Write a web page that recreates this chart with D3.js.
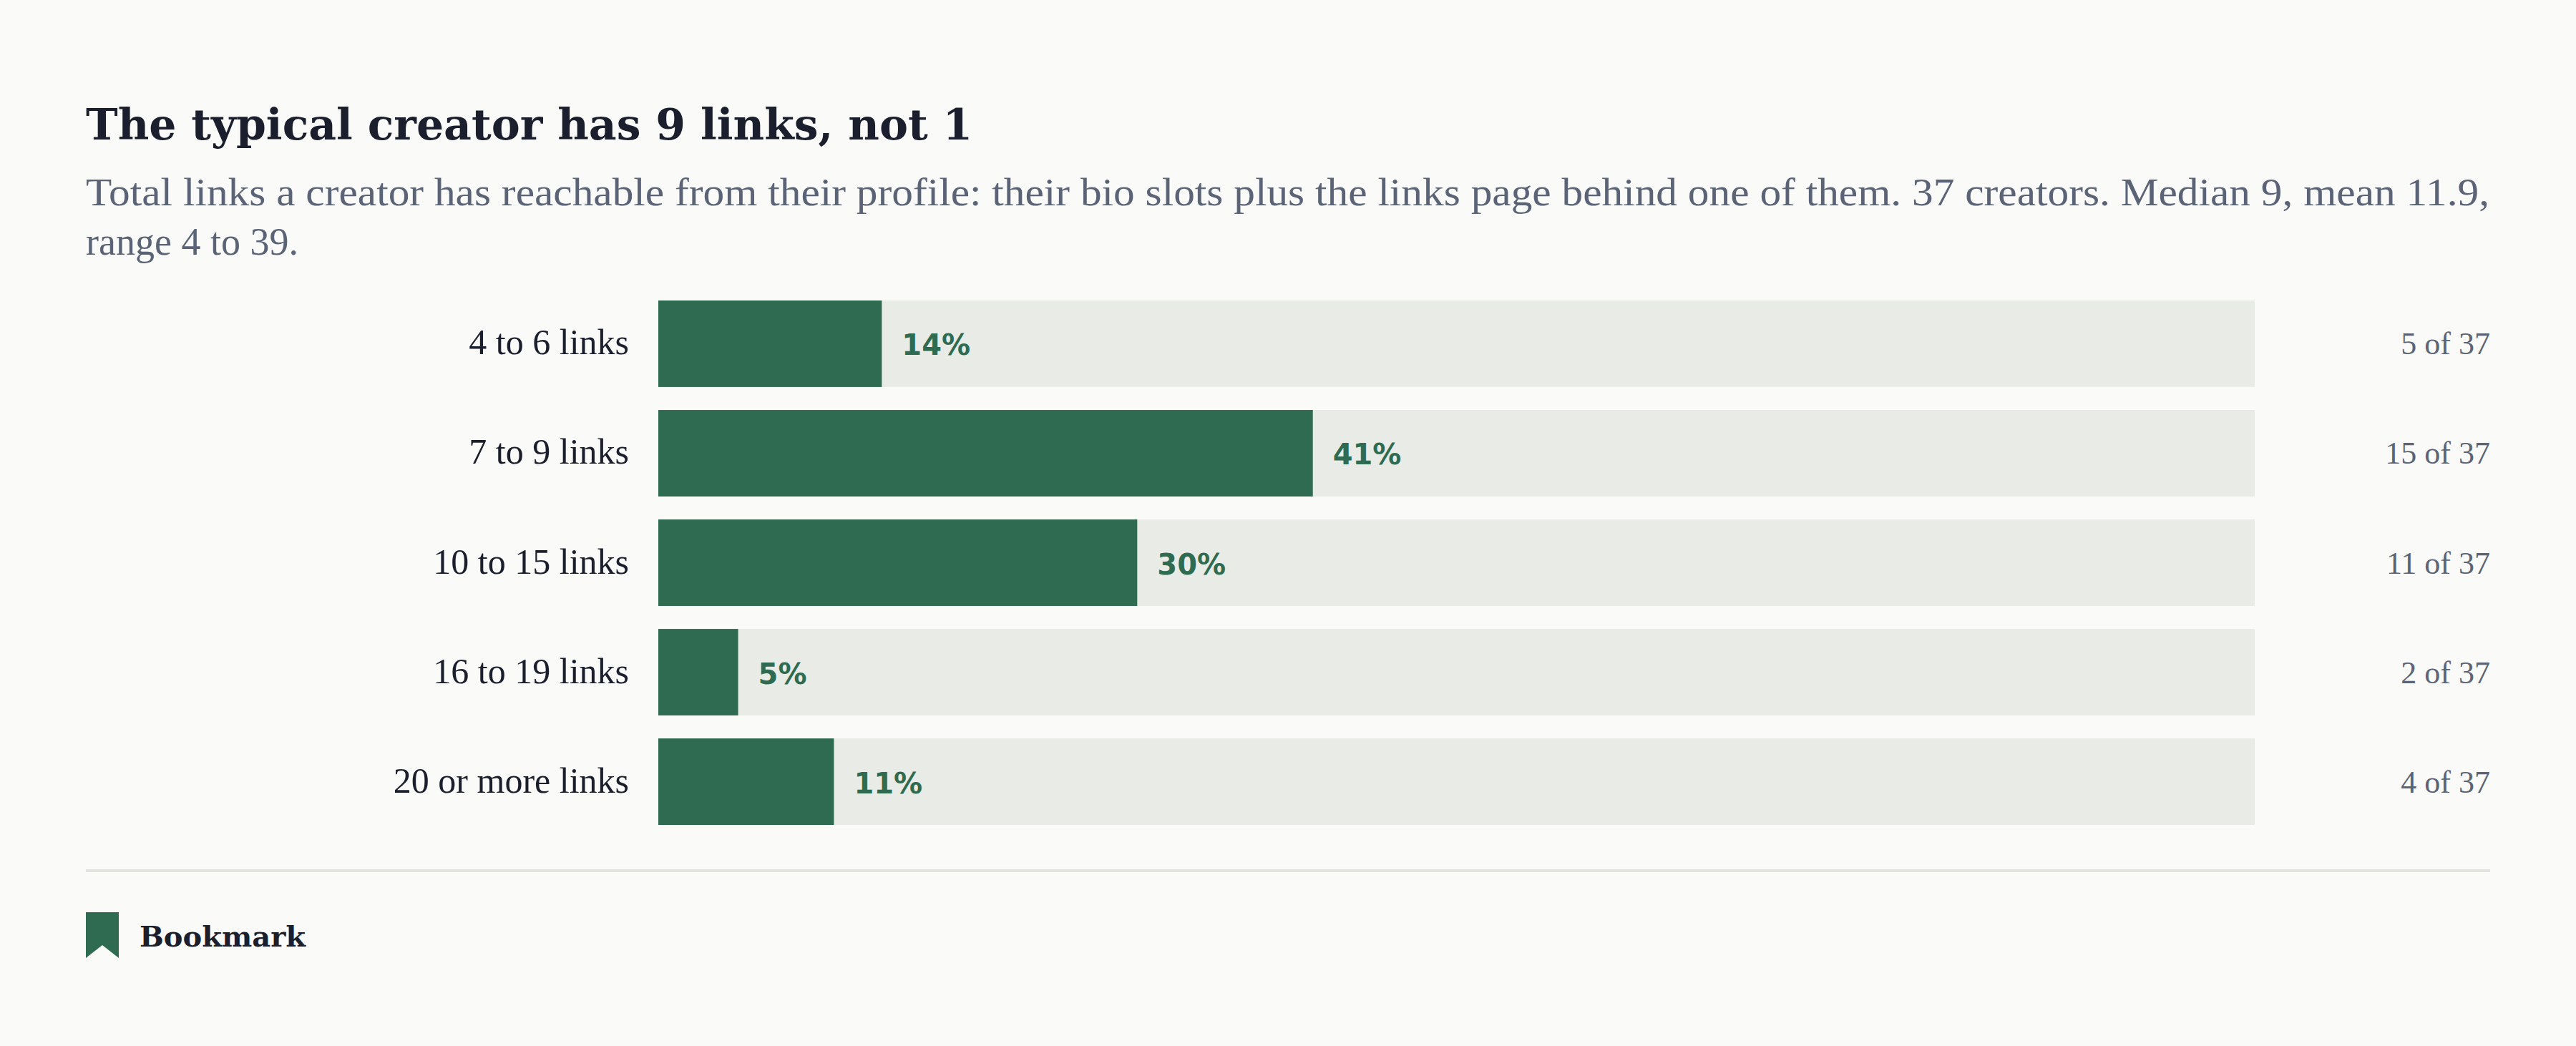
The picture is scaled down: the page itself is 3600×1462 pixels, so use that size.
<!DOCTYPE html>
<html>
<head>
<meta charset="utf-8">
<script src="https://cdn.jsdelivr.net/npm/d3@7"></script>
<style>
  body { margin: 0; background: #fafaf8; }
  svg { display: block; }
</style>
</head>
<body>
<script>
/* data */
const categories = ['4 to 6 links', '7 to 9 links', '10 to 15 links', '16 to 19 links', '20 or more links'];
const percents = [14, 41, 30, 5, 11];
const counts = [5, 15, 11, 2, 4];
const total = 37;

const W = 3600, H = 1462;
const green = '#2e6b50', track = '#e9ebe6', ink = '#1b1e2c', grey = '#5b6477';
const serif = '"Liberation Serif", "DejaVu Serif", serif';

const svg = d3.select('body').append('svg')
  .attr('width', W).attr('height', H);

svg.append('rect').attr('width', W).attr('height', H).attr('fill', '#fafaf8');

/* header */
svg.append('text')
  .attr('x', 120).attr('y', 195)
  .style('font-family', '"DejaVu Serif", serif')
  .style('font-weight', 'bold')
  .style('font-size', '60px')
  .attr('fill', ink)
  .text('The typical creator has 9 links, not 1');

const sub = svg.append('text')
  .style('font-family', serif)
  .style('font-size', '54px')
  .attr('fill', grey);
sub.append('tspan').attr('x', 120).attr('y', 287)
  .attr('textLength', 3359).attr('lengthAdjust', 'spacingAndGlyphs')
  .text('Total links a creator has reachable from their profile: their bio slots plus the links page behind one of them. 37 creators. Median 9, mean 11.9,');
sub.append('tspan').attr('x', 120).attr('y', 356)
  .text('range 4 to 39.');

/* scales */
const x = d3.scaleLinear().domain([0, 100]).range([920, 3151]);
const y = d3.scaleBand().domain(categories).range([420, 1153]).paddingInner(0.21).paddingOuter(0);

const rows = svg.selectAll('.row')
  .data(categories)
  .enter().append('g')
  .attr('class', 'row');

rows.append('rect')
  .attr('x', x(0)).attr('y', d => y(d))
  .attr('width', x(100) - x(0)).attr('height', y.bandwidth())
  .attr('fill', track);

rows.append('rect')
  .attr('x', x(0)).attr('y', d => y(d))
  .attr('width', (d, i) => x(percents[i]) - x(0)).attr('height', y.bandwidth())
  .attr('fill', green);

rows.append('text')
  .attr('x', (d, i) => x(percents[i]) + 28)
  .attr('y', d => y(d) + y.bandwidth() / 2 + 16)
  .style('font-family', '"DejaVu Sans", sans-serif')
  .style('font-weight', 'bold')
  .style('font-size', '40px')
  .attr('fill', green)
  .text((d, i) => percents[i] + '%');

rows.append('text')
  .attr('x', 879)
  .attr('y', d => y(d) + y.bandwidth() / 2 + 15)
  .attr('text-anchor', 'end')
  .style('font-family', serif)
  .style('font-size', '50px')
  .attr('fill', ink)
  .text(d => d);

rows.append('text')
  .attr('x', 3480)
  .attr('y', d => y(d) + y.bandwidth() / 2 + 15)
  .attr('text-anchor', 'end')
  .style('font-family', serif)
  .style('font-size', '44px')
  .attr('fill', grey)
  .text((d, i) => counts[i] + ' of ' + total);

/* footer */
svg.append('rect')
  .attr('x', 120).attr('y', 1215).attr('width', 3360).attr('height', 4)
  .attr('fill', '#e3e4e0');

svg.append('path')
  .attr('d', 'M120,1275 H166 V1339 L143,1321 L120,1339 Z')
  .attr('fill', green);

svg.append('text')
  .attr('x', 195).attr('y', 1323)
  .style('font-family', '"DejaVu Serif", serif')
  .style('font-weight', 'bold')
  .style('font-size', '40px')
  .attr('fill', ink)
  .text('Bookmark');
</script>
</body>
</html>
